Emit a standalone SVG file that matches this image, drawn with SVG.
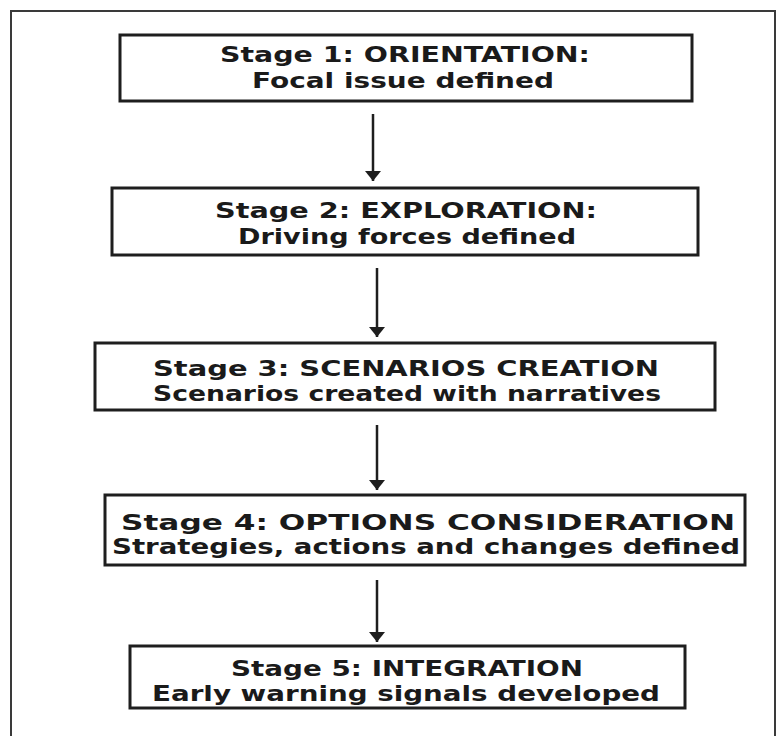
<svg xmlns="http://www.w3.org/2000/svg" width="783" height="736" viewBox="0 0 783 736">
  <defs>
    <style>
      .frame { fill: none; stroke: #3a3a3a; stroke-width: 2; }
      .box { fill: #ffffff; stroke: #1e1e1e; stroke-width: 3; }
      .lbl { font-family: "DejaVu Sans", "Liberation Sans", sans-serif; font-weight: bold; font-size: 21px; fill: #1a1a1a; text-anchor: middle; }
      .conn { stroke: #1e1e1e; stroke-width: 2.5; fill: none; }
    </style>
    <marker id="arrowhead" viewBox="0 0 10 16" refX="10" refY="8" markerWidth="4" markerHeight="6.4" orient="auto" markerUnits="strokeWidth">
      <path d="M0,0 L10,8 L0,16 Z" fill="#1e1e1e"/>
    </marker>
  </defs>

  <rect width="783" height="736" fill="#ffffff"/>

  <!-- outer frame -->
  <rect class="frame" x="11" y="11" width="764" height="740"/>

  <!-- connectors -->
  <g id="connectors">
    <line class="conn" x1="373" y1="114" x2="373" y2="181" marker-end="url(#arrowhead)"/>
    <line class="conn" x1="377" y1="268" x2="377" y2="337" marker-end="url(#arrowhead)"/>
    <line class="conn" x1="377" y1="425" x2="377" y2="490" marker-end="url(#arrowhead)"/>
    <line class="conn" x1="377" y1="580" x2="377" y2="642" marker-end="url(#arrowhead)"/>
  </g>

  <!-- stage 1 -->
  <g id="stage1">
    <rect class="box" x="120" y="35" width="572" height="66"/>
    <text class="lbl" x="405" y="62" textLength="370" lengthAdjust="spacingAndGlyphs">Stage 1:  ORIENTATION:</text>
    <text class="lbl" x="403" y="88" textLength="302" lengthAdjust="spacingAndGlyphs">Focal issue defined</text>
  </g>

  <!-- stage 2 -->
  <g id="stage2">
    <rect class="box" x="112" y="188" width="586" height="67"/>
    <text class="lbl" x="406" y="218" textLength="382" lengthAdjust="spacingAndGlyphs">Stage 2:  EXPLORATION:</text>
    <text class="lbl" x="407" y="244" textLength="338" lengthAdjust="spacingAndGlyphs">Driving forces defined</text>
  </g>

  <!-- stage 3 -->
  <g id="stage3">
    <rect class="box" x="95" y="343" width="620" height="67"/>
    <text class="lbl" x="406" y="376" textLength="506" lengthAdjust="spacingAndGlyphs">Stage 3:  SCENARIOS CREATION</text>
    <text class="lbl" x="407" y="401" textLength="508" lengthAdjust="spacingAndGlyphs">Scenarios created with narratives</text>
  </g>

  <!-- stage 4 -->
  <g id="stage4">
    <rect class="box" x="105" y="495" width="640" height="70"/>
    <text class="lbl" x="428" y="530" textLength="614" lengthAdjust="spacingAndGlyphs">Stage 4:  OPTIONS CONSIDERATION</text>
    <text class="lbl" x="426" y="554" textLength="628" lengthAdjust="spacingAndGlyphs">Strategies, actions and changes defined</text>
  </g>

  <!-- stage 5 -->
  <g id="stage5">
    <rect class="box" x="130" y="646" width="555" height="62"/>
    <text class="lbl" x="407" y="676" textLength="352" lengthAdjust="spacingAndGlyphs">Stage 5:  INTEGRATION</text>
    <text class="lbl" x="406" y="701" textLength="508" lengthAdjust="spacingAndGlyphs">Early warning signals developed</text>
  </g>
</svg>
